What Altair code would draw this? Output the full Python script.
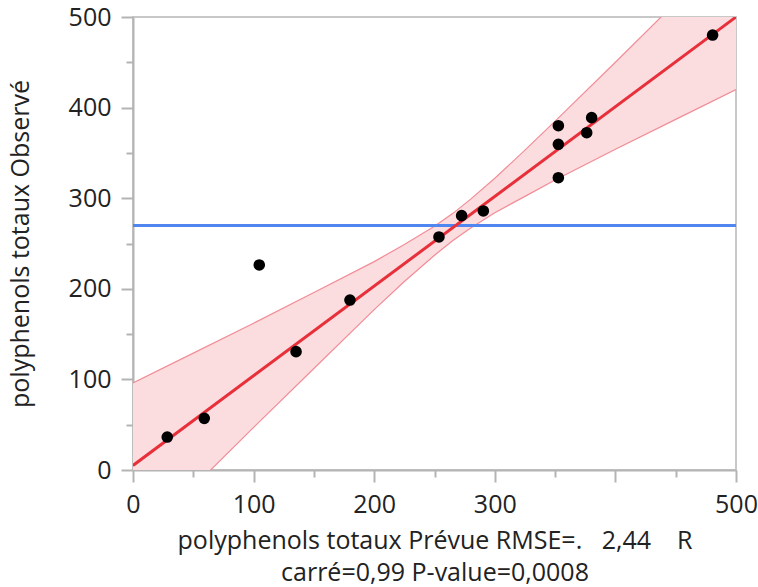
import altair as alt
import pandas as pd

# ---- data ----
pred = [28.4, 59.1, 104.7, 135.2, 179.9, 253.7, 272.5, 290.5, 352.7, 352.7, 352.7, 376.2, 380.3, 480.6]
obs = [36.4, 57.0, 226.3, 130.6, 187.6, 257.2, 280.7, 285.9, 322.6, 359.5, 380.0, 372.3, 388.9, 480.1]

fit_x = [0, 500]
fit_y = [5, 500]

mean_y = [270]

band_x = [0, 50, 100, 150, 200, 225, 250, 265, 280, 300, 325, 350, 400, 450, 500]
band_lo = [-85, -19, 47, 112, 177, 208, 237, 253, 267, 284, 302, 320, 354, 387, 420]
band_hi = [96, 129, 162, 196, 230, 249, 269, 283, 299, 322, 353, 385, 450, 516, 582]

tick_values = [0, 50, 100, 150, 200, 250, 300, 350, 400, 450, 500]

NB = "\u00a0"
x_title = [
    "polyphenols totaux Prévue RMSE=." + NB * 3 + "2,44" + NB * 4 + "R",
    "carré=0,99 P-value=0,0008",
]
y_title = "polyphenols totaux Observé"

FONT = "Open Sans"

pts = pd.DataFrame({"pred": pred, "obs": obs})
fit = pd.DataFrame({"pred": fit_x, "obs": fit_y})
band = pd.DataFrame({"pred": band_x, "lo": band_lo, "hi": band_hi})
mean = pd.DataFrame({"obs": mean_y})

xs = alt.Scale(domain=[0, 500], nice=False, zero=False)
ys = alt.Scale(domain=[0, 500], nice=False, zero=False)

tick_cond = {"condition": {"test": "datum.value % 100 === 0", "value": 12}, "value": 7}

common_axis = dict(
    values=tick_values,
    grid=False,
    domainColor="#b4b4b4",
    domainWidth=2,
    tickColor="#b4b4b4",
    tickWidth=2,
    tickSize=tick_cond,
    labelFont=FONT,
    labelFontSize=25,
    labelColor="#222222",
    titleFont=FONT,
    titleFontSize=25,
    titleFontWeight="normal",
    titleColor="#222222",
    labelFlush=False,
    labelOverlap=False,
)

xaxis = alt.Axis(
    title=x_title,
    labelExpr="(datum.value % 100 === 0 && datum.value !== 400) ? datum.label : ''",
    labelPadding=10,
    titlePadding=11,
    titleLineHeight=32,
    **common_axis,
)
yaxis = alt.Axis(
    title=y_title,
    labelExpr="(datum.value % 100 === 0) ? datum.label : ''",
    labelPadding=10,
    titlePadding=35,
    **common_axis,
)

X = alt.X("pred:Q", scale=xs, axis=xaxis)

band_area = alt.Chart(band).mark_area(clip=True, color="#fbdde0", opacity=1).encode(
    x=X,
    y=alt.Y("lo:Q", scale=ys, axis=yaxis),
    y2="hi:Q",
)
band_lo_line = alt.Chart(band).mark_line(clip=True, color="#f28c96", strokeWidth=1.2).encode(
    x=X, y=alt.Y("lo:Q", scale=ys)
)
band_hi_line = alt.Chart(band).mark_line(clip=True, color="#f28c96", strokeWidth=1.2).encode(
    x=X, y=alt.Y("hi:Q", scale=ys)
)
mean_rule = alt.Chart(mean).mark_rule(color="#4f86f0", strokeWidth=3).encode(
    y=alt.Y("obs:Q", scale=ys)
)
fit_line = alt.Chart(fit).mark_line(clip=True, color="#e8303a", strokeWidth=3).encode(
    x=X, y=alt.Y("obs:Q", scale=ys)
)
points = alt.Chart(pts).mark_circle(color="black", size=135, opacity=1).encode(
    x=X, y=alt.Y("obs:Q", scale=ys)
)

chart = alt.layer(
    band_area, band_lo_line, band_hi_line, mean_rule, fit_line, points
).properties(
    width=603,
    height=453,
    autosize=alt.AutoSizeParams(type="none"),
    padding={"left": 133, "top": 17, "right": 22, "bottom": 117},
    background="white",
).configure_view(
    stroke="#c8c8c8",
    strokeWidth=2,
)

chart.save("out.html", embed_options={"renderer": "svg", "actions": False})
